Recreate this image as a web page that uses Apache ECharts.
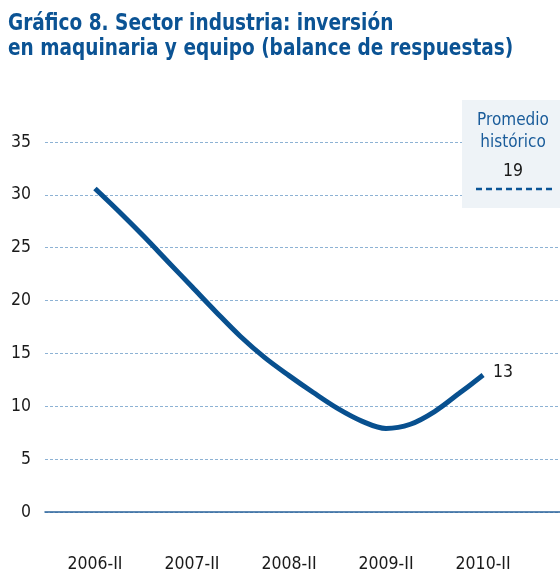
<!DOCTYPE html>
<html><head><meta charset="utf-8">
<script src="https://cdn.jsdelivr.net/npm/echarts@6/dist/echarts.min.js"></script>
<style>html,body{margin:0;padding:0;background:#fff}#c{width:560px;height:573px}</style>
</head><body><div id="c"></div>
<script>
var quarters = ["2006-II","2006-III","2006-IV","2007-I","2007-II","2007-III","2007-IV","2008-I","2008-II","2008-III","2008-IV","2009-I","2009-II","2009-III","2009-IV","2010-I","2010-II"];
var values = [30.6,28.4,26.1,23.7,21.3,18.9,16.6,14.6,12.9,11.3,9.8,8.6,7.9,8.3,9.5,11.2,12.95];
var tickLabels = ["2006-II","2007-II","2008-II","2009-II","2010-II"];
var yTicks = [0,5,10,15,20,25,30,35];
var average = 19;
var titleLines = ["Gráfico 8. Sector industria: inversión","en maquinaria y equipo (balance de respuestas)"];

var FONT = "'DejaVu Sans Condensed', 'DejaVu Sans', sans-serif";
var tickIdx = tickLabels.map(function(t){return quarters.indexOf(t);});
var seriesData = values.map(function(v,i){return [i,v];});

var chart = echarts.init(document.getElementById('c'), null, {renderer:'canvas'});
chart.setOption({
  animation:false,
  grid:{left:45, right:0, top:142, bottom:61, containLabel:false},
  xAxis:{
    type:'value', min:-2.06, max:19.17,
    splitLine:{show:false},
    axisLine:{show:true, onZero:false, lineStyle:{color:'#2a639a', width:1.5}},
    axisTick:{show:false},
    axisLabel:{customValues:tickIdx, formatter:function(v){var k=tickIdx.indexOf(Math.round(v));return k>=0?tickLabels[k]:'';},
      margin:43, fontFamily:FONT, fontSize:17.5, color:'#1a1a1a'}
  },
  yAxis:{
    type:'value', min:0, max:35, interval:5,
    axisLine:{show:false}, axisTick:{show:false},
    axisLabel:{customValues:yTicks, margin:14, fontFamily:FONT, fontSize:17.5, color:'#1a1a1a'},
    splitLine:{show:true, lineStyle:{color:'#8db2d4', type:[3,2], width:1}}
  },
  series:[{
    type:'line', data:seriesData, smooth:0.35, symbol:'none',
    lineStyle:{color:'#08508f', width:5, cap:'butt'},
    endLabel:{show:true, formatter:function(p){return Math.round(p.value[1]);}, fontFamily:FONT, fontSize:17.5, color:'#1a1a1a', distance:10, offset:[0,-3]}
  }],
  graphic:[
    {type:'text', x:8, y:24, scaleX:0.895, style:{text:titleLines[0], font:"bold 23px "+FONT, fill:'#0b5394', verticalAlign:'middle'}},
    {type:'text', x:8, y:49, scaleX:0.895, style:{text:titleLines[1], font:"bold 23px "+FONT, fill:'#0b5394', verticalAlign:'middle'}},
    {type:'rect', shape:{x:462, y:100, width:98, height:108}, style:{fill:'#eef3f7'}, z:10},
    {type:'text', x:513, y:110, style:{text:'Promedio\nhistórico', font:"17px "+FONT, lineHeight:22, fill:'#1a5c9a', align:'center'}, z:11},
    {type:'text', x:513, y:162, style:{text:String(average), font:"17.5px "+FONT, fill:'#1a1a1a', align:'center'}, z:11},
    {type:'line', shape:{x1:476, y1:189, x2:552, y2:189}, style:{stroke:'#0a5496', lineWidth:2.5, lineDash:[6,4]}, z:11}
  ]
});
</script></body></html>
